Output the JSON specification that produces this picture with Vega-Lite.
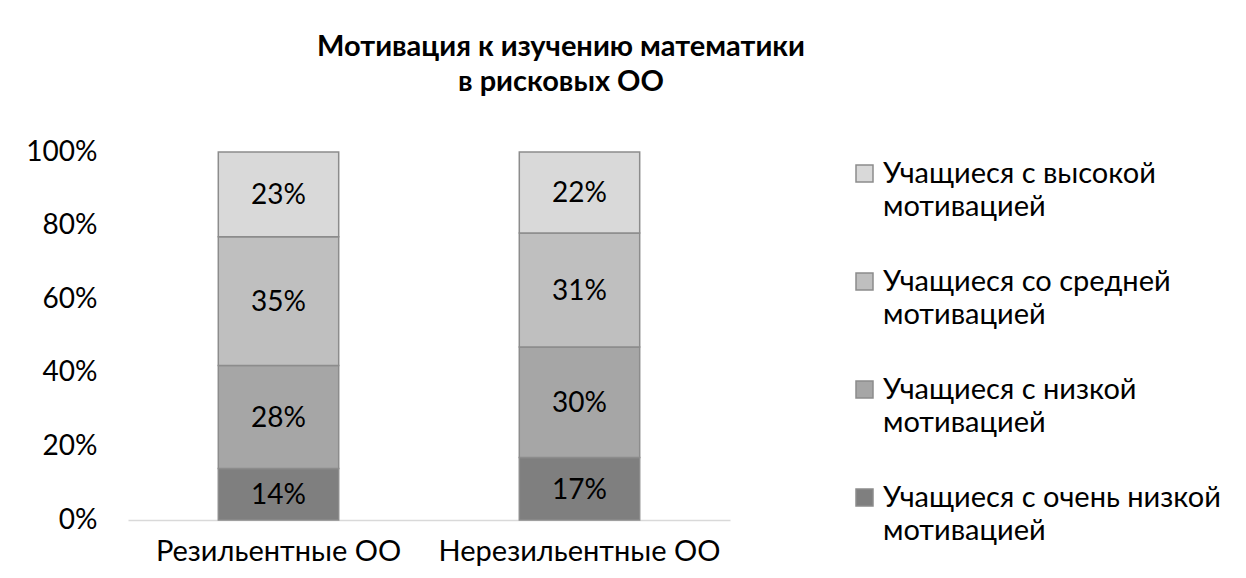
{
  "$schema": "https://vega.github.io/schema/vega-lite/v6.json",
  "width": 602,
  "height": 368,
  "autosize": {"type": "none"},
  "padding": {"left": 128, "top": 152, "right": 516, "bottom": 58},
  "background": "white",
  "config": {
    "font": "Lato",
    "view": {"stroke": null},
    "style": {"guide-label": {"lineHeight": 33}}
  },
  "title": {
    "text": ["Мотивация к изучению математики", "в рисковых ОО"],
    "fontSize": 29,
    "fontWeight": "bold",
    "lineHeight": 35,
    "anchor": "middle",
    "dx": 132,
    "offset": 41,
    "color": "#000000"
  },
  "data": {
    "values": [
      {"school": "Резильентные ОО", "level": "Учащиеся с очень низкой мотивацией", "share": 0.14, "rank": 1},
      {"school": "Резильентные ОО", "level": "Учащиеся с низкой мотивацией", "share": 0.28, "rank": 2},
      {"school": "Резильентные ОО", "level": "Учащиеся со средней мотивацией", "share": 0.35, "rank": 3},
      {"school": "Резильентные ОО", "level": "Учащиеся с высокой мотивацией", "share": 0.23, "rank": 4},
      {"school": "Нерезильентные ОО", "level": "Учащиеся с очень низкой мотивацией", "share": 0.17, "rank": 1},
      {"school": "Нерезильентные ОО", "level": "Учащиеся с низкой мотивацией", "share": 0.30, "rank": 2},
      {"school": "Нерезильентные ОО", "level": "Учащиеся со средней мотивацией", "share": 0.31, "rank": 3},
      {"school": "Нерезильентные ОО", "level": "Учащиеся с высокой мотивацией", "share": 0.22, "rank": 4}
    ]
  },
  "encoding": {
    "x": {
      "field": "school",
      "type": "nominal",
      "sort": ["Резильентные ОО", "Нерезильентные ОО"],
      "scale": {"paddingInner": 0.6, "paddingOuter": 0.3},
      "axis": {
        "title": null,
        "labelAngle": 0,
        "ticks": false,
        "domainColor": "#d9d9d9",
        "domainWidth": 1.5,
        "labelFontSize": 29,
        "labelColor": "#000000",
        "labelPadding": 17,
        "labelLimit": 400
      }
    },
    "y": {
      "field": "share",
      "type": "quantitative",
      "stack": "zero",
      "scale": {"domain": [0, 1]},
      "axis": {
        "title": null,
        "grid": false,
        "domain": false,
        "ticks": false,
        "values": [0, 0.2, 0.4, 0.6, 0.8, 1],
        "format": ".0%",
        "labelFontSize": 28,
        "labelColor": "#000000",
        "labelPadding": 31
      }
    },
    "order": {"field": "rank", "type": "quantitative"}
  },
  "layer": [
    {
      "mark": {"type": "bar", "stroke": "#8c8c8c", "strokeWidth": 1.5},
      "encoding": {
        "color": {
          "field": "level",
          "type": "nominal",
          "scale": {
            "domain": [
              "Учащиеся с высокой мотивацией",
              "Учащиеся со средней мотивацией",
              "Учащиеся с низкой мотивацией",
              "Учащиеся с очень низкой мотивацией"
            ],
            "range": ["#d9d9d9", "#bfbfbf", "#a6a6a6", "#7f7f7f"]
          },
          "legend": {
            "title": null,
            "orient": "none",
            "legendX": 722,
            "legendY": 7,
            "padding": 0,
            "labelFontSize": 29,
            "labelColor": "#000000",
            "labelLimit": 500,
            "labelExpr": "[replace(datum.label, ' мотивацией', ''), 'мотивацией']",
            "labelBaseline": "middle",
            "labelOffset": 4,
            "rowPadding": 45,
            "symbolType": "square",
            "symbolSize": 289,
            "symbolStrokeColor": "#8c8c8c",
            "symbolStrokeWidth": 1.5
          }
        }
      }
    },
    {
      "mark": {"type": "text", "fontSize": 28, "color": "#000000", "dy": 2},
      "encoding": {
        "y": {"field": "share", "type": "quantitative", "stack": "zero", "bandPosition": 0.5},
        "detail": {"field": "level", "type": "nominal"},
        "text": {"field": "share", "type": "quantitative", "format": ".0%"}
      }
    }
  ]
}
